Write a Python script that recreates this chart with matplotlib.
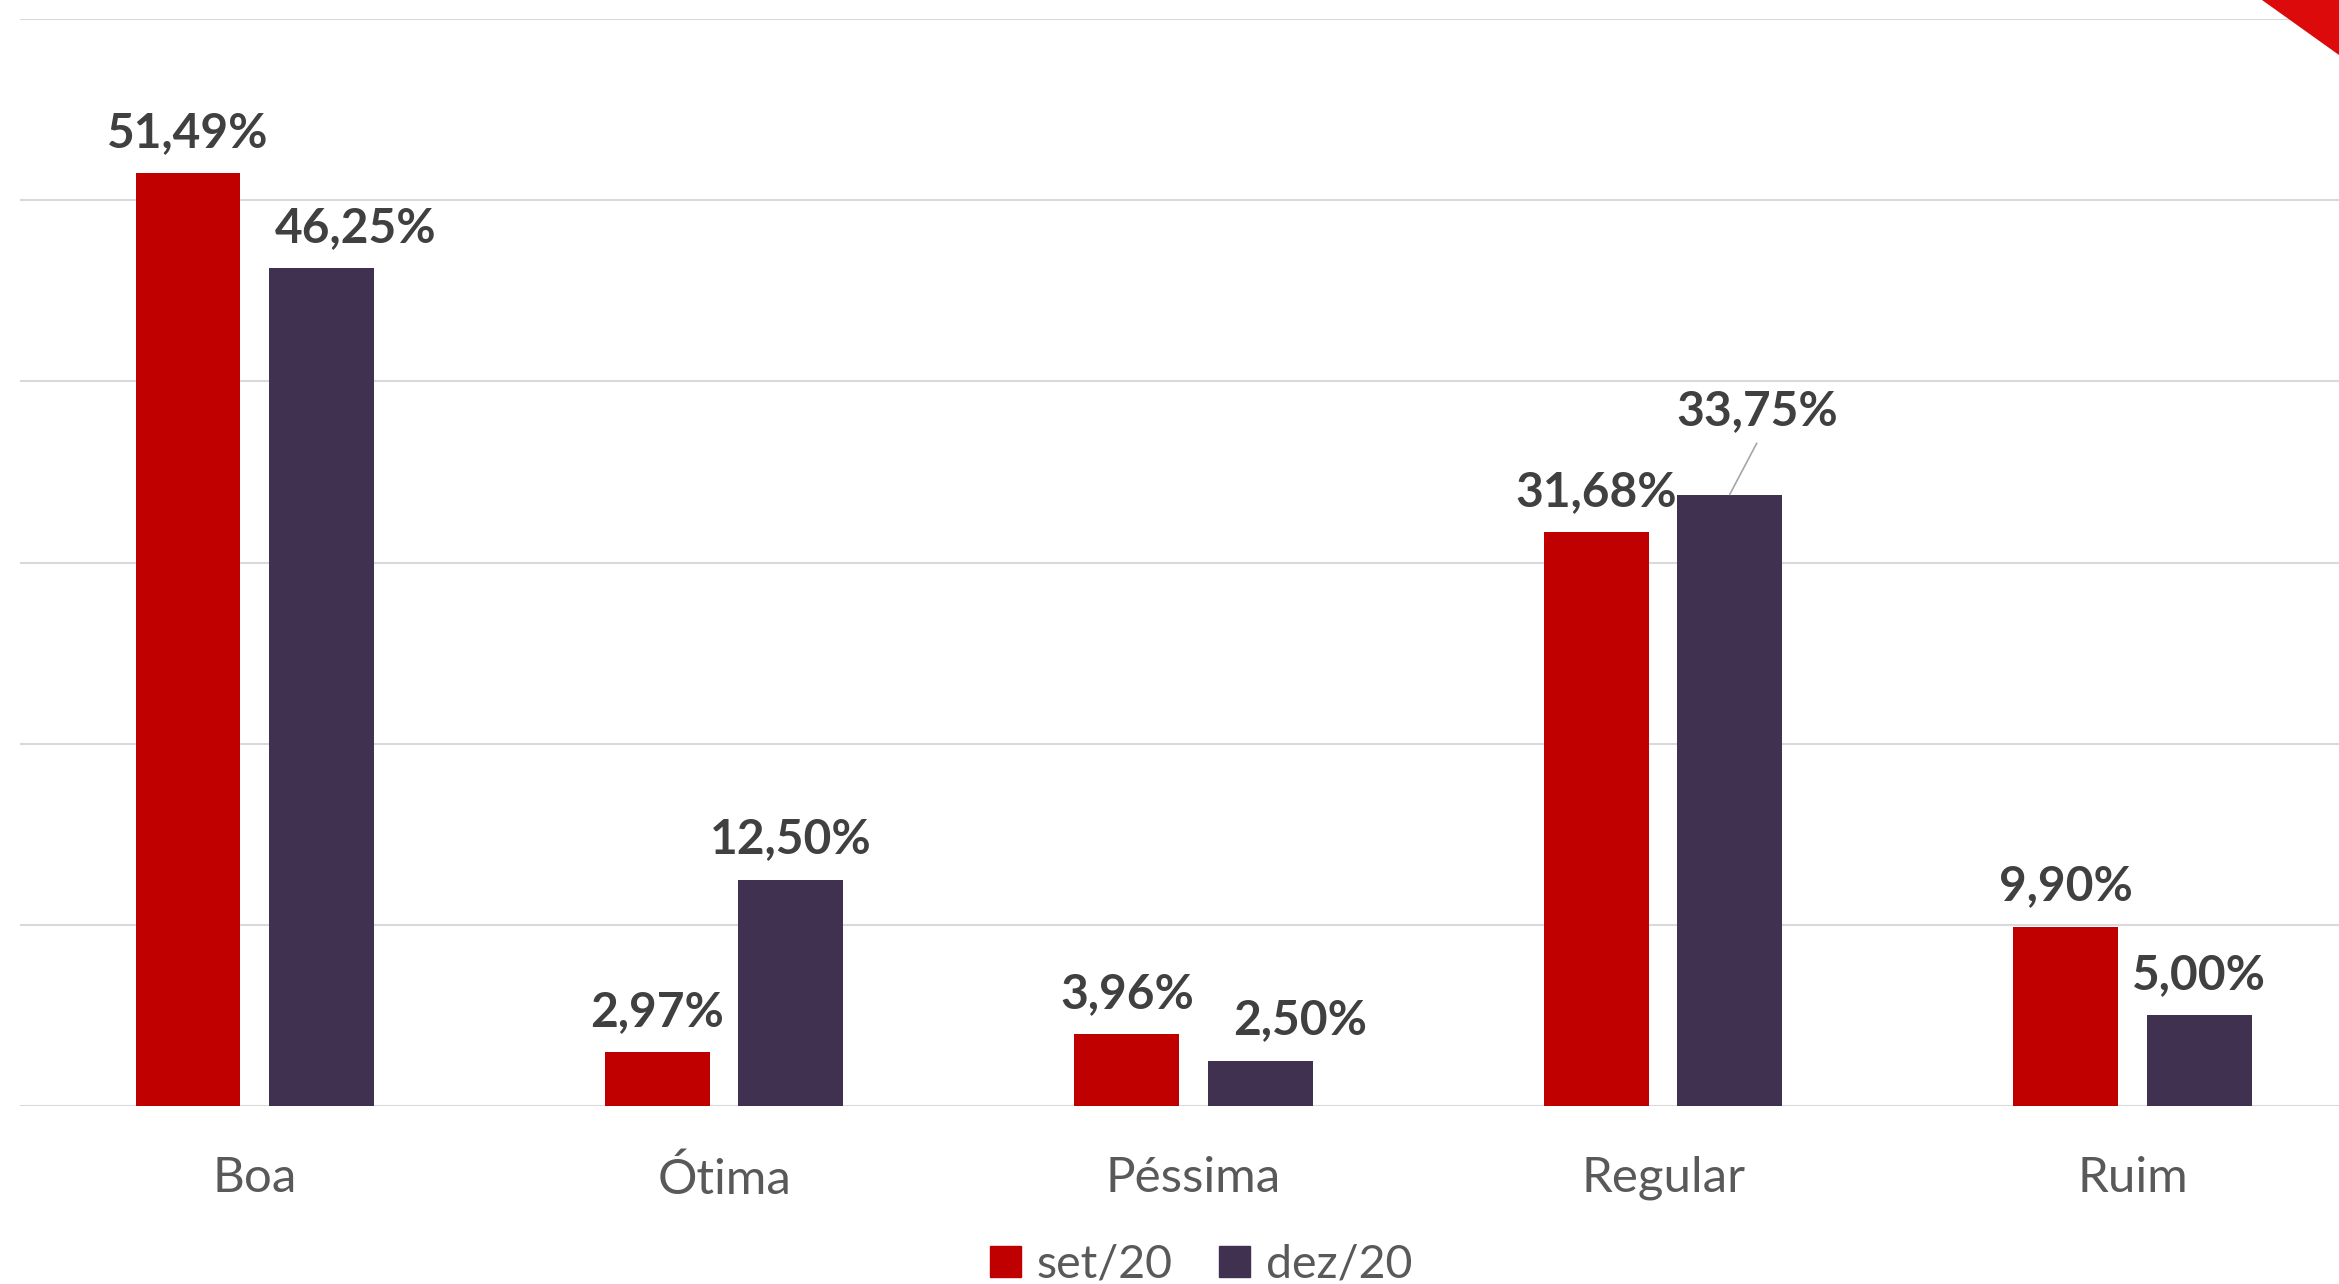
import numpy as np
import matplotlib.pyplot as plt
from matplotlib.patches import Polygon, Patch

plt.rcParams['font.family'] = ['Lato', 'DejaVu Sans']

categorias = ['Boa', 'Ótima', 'Péssima', 'Regular', 'Ruim']
set20 = [51.49, 2.97, 3.96, 31.68, 9.90]
dez20 = [46.25, 12.50, 2.50, 33.75, 5.00]
series = ['set/20', 'dez/20']

COR_SET = '#C00000'
COR_DEZ = '#403151'
COR_TXT = '#404040'

fig = plt.figure(figsize=(23.39, 12.84), dpi=100)
ax = fig.add_axes([20 / 2339, 1 - 1106 / 1284, 1 - 20 / 2339, (1106 - 19) / 1284])

# triangulo vermelho no canto
fig.patches.append(Polygon([(2262 / 2339, 1), (1, 1), (1, 1 - 55 / 1284)],
                           closed=True, transform=fig.transFigure,
                           facecolor='#DC0A0A', edgecolor='none', zorder=0))

x = np.arange(len(categorias))
w = 0.2234
off = 0.142
b1 = ax.bar(x - off, set20, w, color=COR_SET, zorder=3)
b2 = ax.bar(x + off, dez20, w, color=COR_DEZ, zorder=3)

ax.set_ylim(0, 60)
ax.set_xlim(-0.5, 4.44)
ax.set_yticks(np.arange(0, 61, 10))
ax.yaxis.grid(True, color='#D9D9D9', lw=1.5, zorder=0)
ax.set_axisbelow(True)
for s in ax.spines.values():
    s.set_visible(False)
ax.tick_params(axis='y', left=False, labelleft=False)
ax.tick_params(axis='x', length=0, pad=36, labelsize=35.5, labelcolor='#595959')
ax.set_xticks(x, categorias)

def fmt(v):
    return f'{v:.2f}%'.replace('.', ',')

# deslocamentos dos rotulos em pontos (dx, dy)
desl1 = [(0, 29)] * 5
desl2 = [(0, 29)] * 5
desl2[0] = (25, 29)
desl2[2] = (29, 29)

rotulos = []
for bars, vals, desl in ((b1, set20, desl1), (b2, dez20, desl2)):
    for b, v, (dx, dy) in zip(bars, vals, desl):
        cx = b.get_x() + b.get_width() / 2
        t = ax.annotate(fmt(v), (cx, v), xytext=(dx, dy), textcoords='offset points',
                        ha='center', va='center', fontsize=34.5, fontweight='bold',
                        color=COR_TXT, zorder=5)
        rotulos.append(t)

# rotulo com linha guia (Regular, dez/20)
rotulos[8].set_visible(False)
b = b2[3]
cx = b.get_x() + b.get_width() / 2
ax.annotate(fmt(dez20[3]), (cx, dez20[3]), xytext=(19.5, 60), textcoords='offset points',
            ha='center', va='center', fontsize=34.5, fontweight='bold', color=COR_TXT,
            zorder=5)
ax.annotate('', (cx, dez20[3]), xytext=(19.5, 37), textcoords='offset points',
            arrowprops=dict(arrowstyle='-', color='#A6A6A6', lw=1.2, shrinkA=0, shrinkB=0))

handles = [Patch(color=COR_SET), Patch(color=COR_DEZ)]
fig.legend(handles, series, loc='center', bbox_to_anchor=(0.5136, 1 - 1265 / 1284),
           frameon=False, ncol=2, fontsize=33.5, labelcolor='#595959',
           handlelength=0.65, handleheight=0.65, handletextpad=0.35,
           columnspacing=1.0, borderpad=0)

fig.savefig('out.png', dpi=100)
